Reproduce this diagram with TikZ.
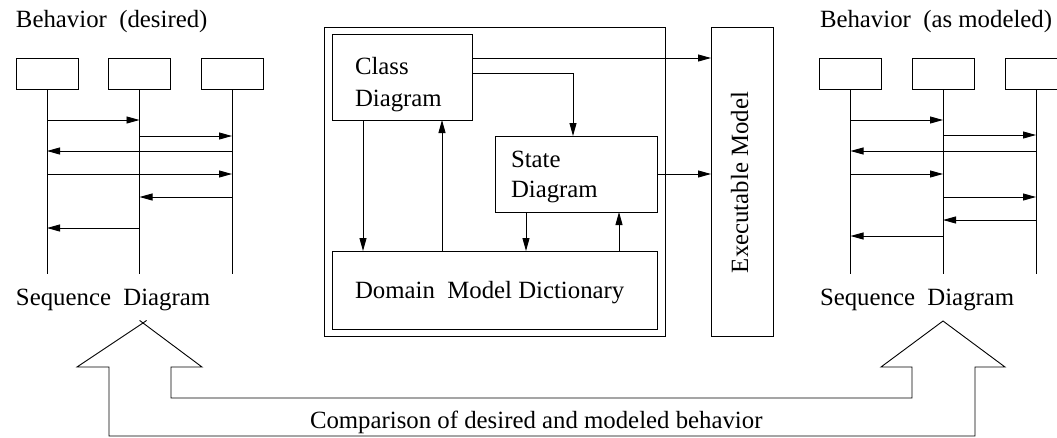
\documentclass[tikz,border=0pt]{standalone}
\usepackage{fontspec}
\setmainfont{Liberation Serif}
\usetikzlibrary{arrows.meta}
\tikzset{
  obj/.style={draw, inner sep=0pt, outer sep=0pt, minimum width=62pt, minimum height=31pt},
  blk/.style={draw, inner sep=0pt, outer sep=0pt},
  msg/.style={-{Triangle[length=13pt,width=7pt]}},
  txt/.style={anchor=base west, inner sep=0pt, outer sep=0pt, font=\fontsize{24.8}{32}\selectfont},
}
\begin{document}
\begin{tikzpicture}[x=1pt,y=-1pt,line width=0.9pt]
\useasboundingbox (0,0) rectangle (1057,437);

% ---------- left sequence diagram ----------
\node[txt] (bdes) at (16,27) {Behavior\ \ (desired)};
\node[obj] (L1) at (47,73.5) {};
\node[obj] (L2) at (139.5,73.5) {};
\node[obj] (L3) at (232,73.5) {};
\coordinate (lbot) at (0,274);
\foreach \n in {L1,L2,L3} \draw (\n.south) -- (\n.south |- lbot);
\foreach \a/\b/\y in {L1/L2/120, L2/L3/136, L3/L1/151, L1/L3/174, L3/L2/197, L2/L1/228}{
  \coordinate (yy) at (0,\y);
  \draw[msg] (\a |- yy) -- (\b |- yy);
}
\node[txt] (sdl) at (16,305) {Sequence\ \ Diagram};

% ---------- right sequence diagram ----------
\node[txt] (bmod) at (820,27) {Behavior\ \ (as modeled)};
\node[obj] (R1) at (850.5,73.5) {};
\node[obj] (R2) at (943,73.5) {};
\node[obj] (R3) at (1036,73.5) {};
\foreach \n in {R1,R2,R3} \draw (\n.south) -- (\n.south |- lbot);
\foreach \a/\b/\y in {R1/R2/120, R2/R3/135, R3/R1/151, R1/R2/174, R2/R3/197, R3/R2/220, R2/R1/236}{
  \coordinate (yy) at (0,\y);
  \draw[msg] (\a |- yy) -- (\b |- yy);
}
\node[txt] (sdr) at (820,305) {Sequence\ \ Diagram};

% ---------- middle ----------
\node[blk, minimum width=341pt, minimum height=309pt] (F) at (494.5,181.5) {};
\node[blk, minimum width=140pt, minimum height=86pt] (C) at (402,77) {};
\node[blk, minimum width=162pt, minimum height=76pt] (S) at (576,174) {};
\node[blk, minimum width=325pt, minimum height=78pt] (D) at (494.5,290) {};
\node[blk, minimum width=62pt, minimum height=309pt] (E) at (742,181.5) {};

\node[txt] (ct1) at (355,74) {Class};
\node[txt] (ct2) at (355,106) {Diagram};
\node[txt] (st1) at (511,167) {State};
\node[txt] (st2) at (511,197) {Diagram};
\node[txt] (dt) at (355,298) {Domain\ \ Model Dictionary};
\node[txt, rotate=90] (et) at (748,273) {Executable Model};

\coordinate (ya) at (0,58);
\coordinate (yb) at (0,73);
\coordinate (xs) at (573,0);
\coordinate (x1) at (363,0);
\coordinate (x2) at (442,0);
\coordinate (x3) at (526,0);
\coordinate (x4) at (619,0);
\draw[msg] (C.east |- ya) -- (E.west |- ya);
\draw[msg] (C.east |- yb) -| (S.north -| xs);
\draw[msg] (C.south -| x1) -- (D.north -| x1);
\draw[msg] (D.north -| x2) -- (C.south -| x2);
\draw[msg] (S.south -| x3) -- (D.north -| x3);
\draw[msg] (D.north -| x4) -- (S.south -| x4);
\draw[msg] (S.east) -- (E.west |- S.east);

% ---------- comparison arrow ----------
\coordinate (tipL) at (143,323);
\coordinate (tipR) at (943,321);
\draw (77,367) -- (tipL) -- (202,367) -- (171,367) -- (171,398) -- (912,398)
  -- (912,367) -- (881,367) -- (tipR) -- (1005,367) -- (975,367) -- (975,436)
  -- (109,436) -- (109,367) -- cycle;
\draw (tipL) -- ++(3.6,-2.6) (tipL) -- ++(-3.4,-2.6);
\node[txt] (cmp) at (310,428) {Comparison of desired and modeled behavior};
\end{tikzpicture}
\end{document}
